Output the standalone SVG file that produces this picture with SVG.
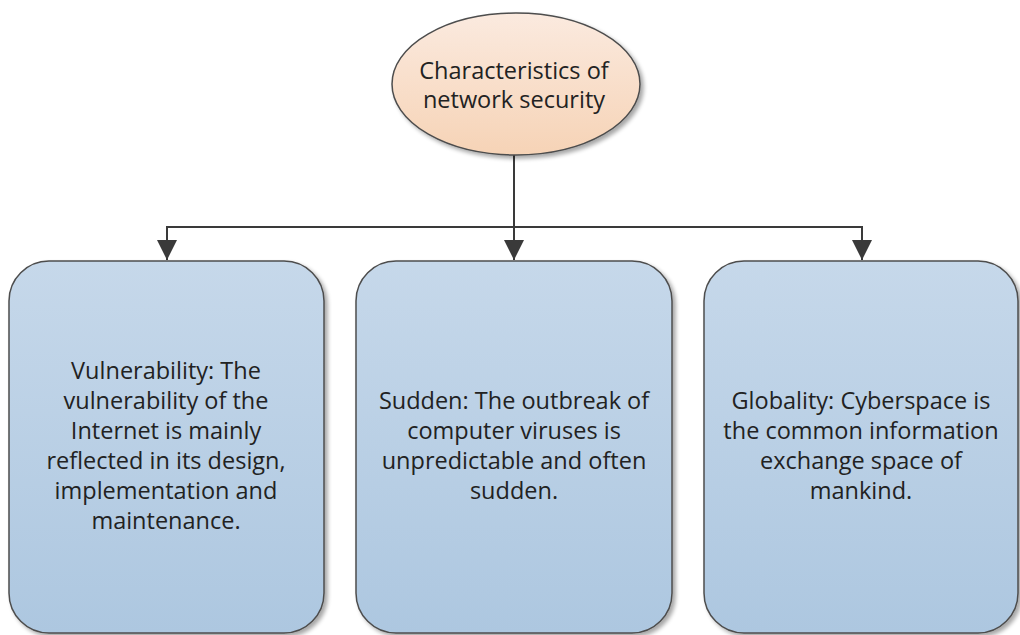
<svg xmlns="http://www.w3.org/2000/svg" width="1020" height="635" viewBox="0 0 1020 635">
<defs>
<linearGradient id="gBox" x1="0" y1="0" x2="0" y2="1">
<stop offset="0" stop-color="#c6d8ea"/>
<stop offset="1" stop-color="#adc7e0"/>
</linearGradient>
<linearGradient id="gEll" x1="0" y1="0" x2="0" y2="1">
<stop offset="0" stop-color="#fbeadf"/>
<stop offset="1" stop-color="#f6d3b6"/>
</linearGradient>
<filter id="sh" x="-10%" y="-10%" width="120%" height="120%">
<feGaussianBlur in="SourceAlpha" stdDeviation="2"/>
<feOffset dx="3" dy="3" result="b"/>
<feComponentTransfer><feFuncA type="linear" slope="0.35"/></feComponentTransfer>
<feMerge><feMergeNode/><feMergeNode in="SourceGraphic"/></feMerge>
</filter>
<marker id="arr" viewBox="0 0 20 20" refX="20" refY="10" markerWidth="20" markerHeight="20" markerUnits="userSpaceOnUse" orient="auto">
<path d="M0,0 L20,10 L0,20 Z" fill="#3a3a3a"/>
</marker>
</defs>
<style>
.box{fill:url(#gBox);stroke:#4d4d4d;stroke-width:1.5;filter:url(#sh)}
.ell{fill:url(#gEll);stroke:#4d4d4d;stroke-width:1.5;filter:url(#sh)}
.t{font-family:"Open Sans","Liberation Sans",sans-serif;font-size:23.5px;fill:#222222;text-anchor:middle}
.c{fill:none;stroke:#3a3a3a;stroke-width:2}
</style>
<rect width="1020" height="635" fill="#ffffff"/>
<g id="connectors">
<path class="c" d="M514,155 V260" marker-end="url(#arr)"/>
<path class="c" d="M167,227 H862"/>
<path class="c" d="M167,226 V260" marker-end="url(#arr)"/>
<path class="c" d="M862,226 V260" marker-end="url(#arr)"/>
</g>
<g id="root">
<ellipse class="ell" cx="516" cy="84" rx="124" ry="71"/>
<text class="t" x="514" y="79">Characteristics of</text>
<text class="t" x="514" y="108">network security</text>
</g>
<g id="vulnerability">
<rect class="box" x="9" y="261" width="315" height="372" rx="40"/>
<text class="t" x="166" y="379">Vulnerability: The</text>
<text class="t" x="166" y="409">vulnerability of the</text>
<text class="t" x="166" y="439">Internet is mainly</text>
<text class="t" x="166" y="469">reflected in its design,</text>
<text class="t" x="166" y="499">implementation and</text>
<text class="t" x="166" y="529">maintenance.</text>
</g>
<g id="sudden">
<rect class="box" x="356" y="261" width="316" height="372" rx="40"/>
<text class="t" x="514" y="409">Sudden: The outbreak of</text>
<text class="t" x="514" y="439">computer viruses is</text>
<text class="t" x="514" y="469">unpredictable and often</text>
<text class="t" x="514" y="499">sudden.</text>
</g>
<g id="globality">
<rect class="box" x="704" y="261" width="314" height="372" rx="40"/>
<text class="t" x="861" y="409">Globality: Cyberspace is</text>
<text class="t" x="861" y="439">the common information</text>
<text class="t" x="861" y="469">exchange space of</text>
<text class="t" x="861" y="499">mankind.</text>
</g>
</svg>
